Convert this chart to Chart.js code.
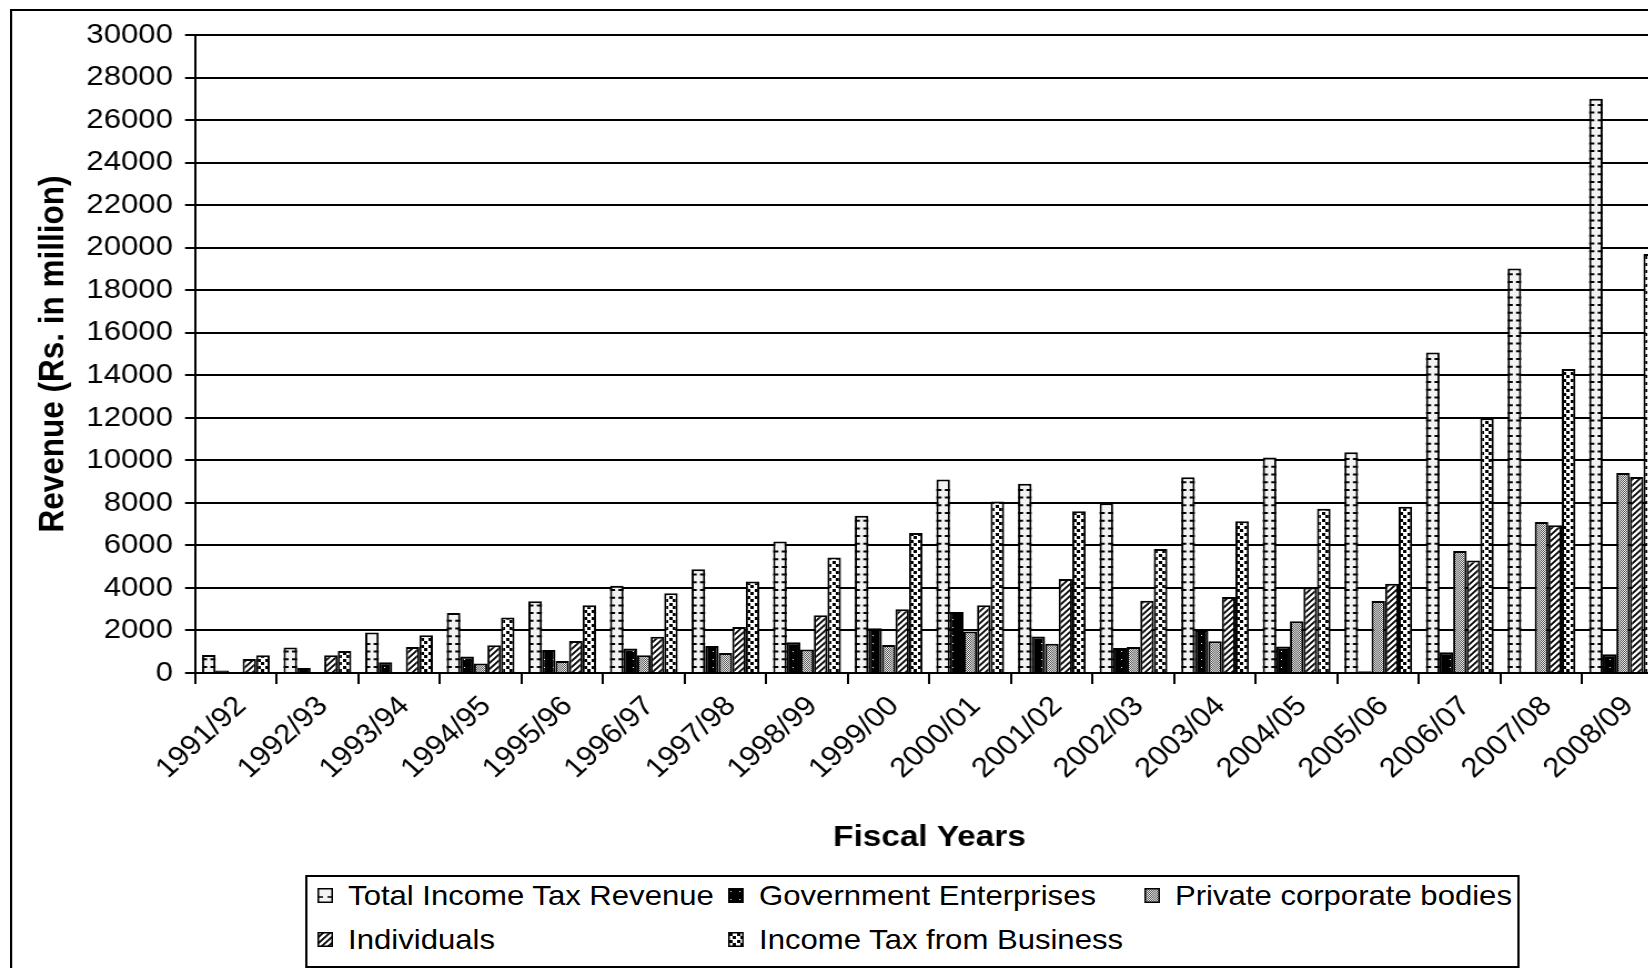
<!DOCTYPE html>
<html>
<head>
<meta charset="utf-8">
<title>Income Tax Revenue by Fiscal Year</title>
<script src="https://cdn.jsdelivr.net/npm/chart.js@4.4.1/dist/chart.umd.min.js"></script>
<style>
html, body { margin: 0; padding: 0; overflow: hidden; background: #fff; width: 1648px; height: 968px; }
/* the source picture is stretched sideways, so the whole chart is drawn narrow and widened */
#wrap { position: absolute; left: 0; top: 0; width: 1560px; height: 968px; transform: scaleX(1.11); transform-origin: 0 0; }
#frame { position: absolute; left: 9px; top: 9px; width: 1600px; height: 1000px; border: 2px solid #000; }
#chart { position: absolute; left: 0; top: 0; }
#legendBox { position: absolute; left: 275px; top: 875px; width: 1090px; height: 89px; border: 2px solid #000; background: #fff; }
.item { position: absolute; height: 30px; line-height: 30px; font-family: "Liberation Sans", Arial, sans-serif; font-size: 28px; color: #000; white-space: nowrap; }
.item canvas { position: absolute; left: 0; top: 7px; }
.item span { position: absolute; left: 28px; top: 0; }
</style>
</head>
<body>
<div id="wrap">
  <div id="frame"></div>
  <canvas id="chart" width="1560" height="968"></canvas>
  <div id="legendBox"></div>
</div>
<script>
const years = ['1991/92', '1992/93', '1993/94', '1994/95', '1995/96', '1996/97', '1997/98', '1998/99', '1999/00',
    '2000/01', '2001/02', '2002/03', '2003/04', '2004/05', '2005/06', '2006/07', '2007/08', '2008/09'];

const totalRevenue = [850, 1200, 1900, 2820, 3370, 4100, 4880, 6180, 7400, 9100, 8900, 7980, 9200, 10130, 10380, 15070, 19020, 27000];
const govEnterprises = [120, 230, 500, 780, 1080, 1150, 1270, 1450, 2100, 2870, 1720, 1170, 2020, 1250, 80, 980, 60, 880];
const privateBodies = [0, 0, 0, 450, 560, 830, 940, 1100, 1320, 1950, 1380, 1220, 1490, 2430, 3380, 5740, 7100, 9400];
const individuals = [660, 830, 1220, 1300, 1500, 1700, 2160, 2720, 3000, 3180, 4420, 3400, 3570, 4020, 4200, 5290, 6950, 9220];
const businessTax = [830, 1030, 1770, 2610, 3180, 3750, 4300, 5430, 6580, 8070, 7600, 5830, 7130, 7720, 7820, 11980, 14300, 19700];

const seriesLabels = ['Total Income Tax Revenue', 'Government Enterprises', 'Private corporate bodies', 'Individuals', 'Income Tax from Business'];

const yMin = 0;
const yMax = 30000;
const yStep = 2000;

// legend item places (swatch left, row centre) in the unstretched frame
const legendSpots = [[285.6, 896], [655.9, 896], [1030.6, 896], [285.6, 940], [655.9, 940]];

Chart.defaults.font.family = '"Liberation Sans", Arial, sans-serif';
Chart.defaults.color = '#000';

function makeTile(w, h, draw) {
    const c = document.createElement('canvas');
    c.width = w;
    c.height = h;
    draw(c.getContext('2d'));
    return c;
}

const tiles = [
    makeTile(4, 4, g => { g.fillStyle = '#f3f3f3'; g.fillRect(0, 0, 4, 4); }),
    makeTile(8, 8, g => {
        g.fillStyle = '#000'; g.fillRect(0, 0, 8, 8);
        g.fillStyle = '#fff'; g.fillRect(2, 3, 1, 1);
    }),
    makeTile(2, 2, g => {
        g.fillStyle = '#f2f2f2'; g.fillRect(0, 0, 2, 2);
        g.fillStyle = '#505050'; g.fillRect(0, 0, 1, 1); g.fillRect(1, 1, 1, 1);
    }),
    makeTile(6, 6, g => {
        g.fillStyle = '#fff'; g.fillRect(0, 0, 6, 6);
        g.strokeStyle = '#000'; g.lineWidth = 1.8;
        g.beginPath();
        g.moveTo(-1, 7); g.lineTo(7, -1);
        g.moveTo(-1, 1); g.lineTo(1, -1);
        g.moveTo(5, 7); g.lineTo(7, 5);
        g.stroke();
    }),
    makeTile(7, 7, g => {
        g.fillStyle = '#fff'; g.fillRect(0, 0, 7, 7);
        g.fillStyle = '#000'; g.fillRect(1, 1, 3, 3); g.fillRect(4, 4, 3, 3);
    })
];

const ctx = document.getElementById('chart').getContext('2d');
const patterns = tiles.map(t => ctx.createPattern(t, 'repeat'));

// short dashes along both sides of the total bars
function drawDashes(c, left, right, top, bottom, len) {
    c.beginPath();
    for (let yy = bottom - 5; yy > top + 4; yy -= 7.7) {
        c.moveTo(left, yy); c.lineTo(left + len, yy);
        c.moveTo(right - len, yy); c.lineTo(right, yy);
    }
    c.stroke();
}

const totalDashes = {
    id: 'totalDashes',
    afterDatasetDraw(chart, args) {
        if (args.index !== 0) return;
        const c = chart.ctx;
        c.save();
        c.strokeStyle = '#000';
        c.lineWidth = 2;
        args.meta.data.forEach(bar => {
            if (bar.base - bar.y < 8) return;
            drawDashes(c, bar.x - bar.width / 2, bar.x + bar.width / 2, bar.y, bar.base, 4.6);
        });
        c.restore();
    }
};

const seriesData = [totalRevenue, govEnterprises, privateBodies, individuals, businessTax];

const chart = new Chart(ctx, {
    type: 'bar',
    data: {
        labels: years,
        datasets: seriesData.map((d, i) => ({
            label: seriesLabels[i],
            data: d,
            backgroundColor: patterns[i],
            borderColor: '#000',
            borderWidth: 2,
            categoryPercentage: 0.83,
            barPercentage: 1.0
        }))
    },
    options: {
        responsive: false,
        animation: false,
        layout: { padding: { left: 14, top: 35, right: 61, bottom: 105 } },
        plugins: {
            legend: { display: false },
            tooltip: { enabled: false }
        },
        scales: {
            x: {
                grid: { display: true, drawOnChartArea: false, drawTicks: true, tickLength: 11, color: '#000', lineWidth: 2, offset: true },
                border: { display: true, color: '#000', width: 2 },
                ticks: { color: '#000', font: { size: 28 }, maxRotation: 45, minRotation: 45, autoSkip: false, padding: 6, labelOffset: 5 },
                title: { display: true, text: 'Fiscal Years', color: '#000', font: { size: 30, weight: 'bold' }, padding: { top: 0, bottom: 7 } },
                afterFit(scale) { scale.height = 190; }
            },
            y: {
                min: yMin,
                max: yMax,
                ticks: { stepSize: yStep, color: '#000', font: { size: 28 }, padding: 11, callback: v => String(v) },
                grid: { color: '#000', lineWidth: 2, tickLength: 9, drawTicks: true },
                border: { color: '#000', width: 2 },
                title: { display: true, text: 'Revenue (Rs. in million)', color: '#000', font: { size: 31.5, weight: 'bold' }, padding: { top: 15, bottom: 0 } },
                afterFit(scale) { scale.width = 161.7; }
            }
        }
    },
    plugins: [totalDashes]
});

// legend in the boxed two-row layout of the original
const wrap = document.getElementById('wrap');
seriesLabels.forEach((label, i) => {
    const item = document.createElement('div');
    item.className = 'item';
    item.style.left = legendSpots[i][0] + 'px';
    item.style.top = (legendSpots[i][1] - 15) + 'px';

    const sw = document.createElement('canvas');
    sw.width = 14;
    sw.height = 15;
    const g = sw.getContext('2d');
    g.fillStyle = g.createPattern(tiles[i], 'repeat');
    g.fillRect(0, 0, 14, 15);
    g.strokeStyle = '#000';
    g.lineWidth = 1.5;
    if (i === 0) drawDashes(g, 1, 13, 1, 14, 4);
    g.strokeRect(0.75, 0.75, 12.5, 13.5);

    const txt = document.createElement('span');
    txt.textContent = label;
    item.appendChild(sw);
    item.appendChild(txt);
    wrap.appendChild(item);
});
</script>
</body>
</html>
